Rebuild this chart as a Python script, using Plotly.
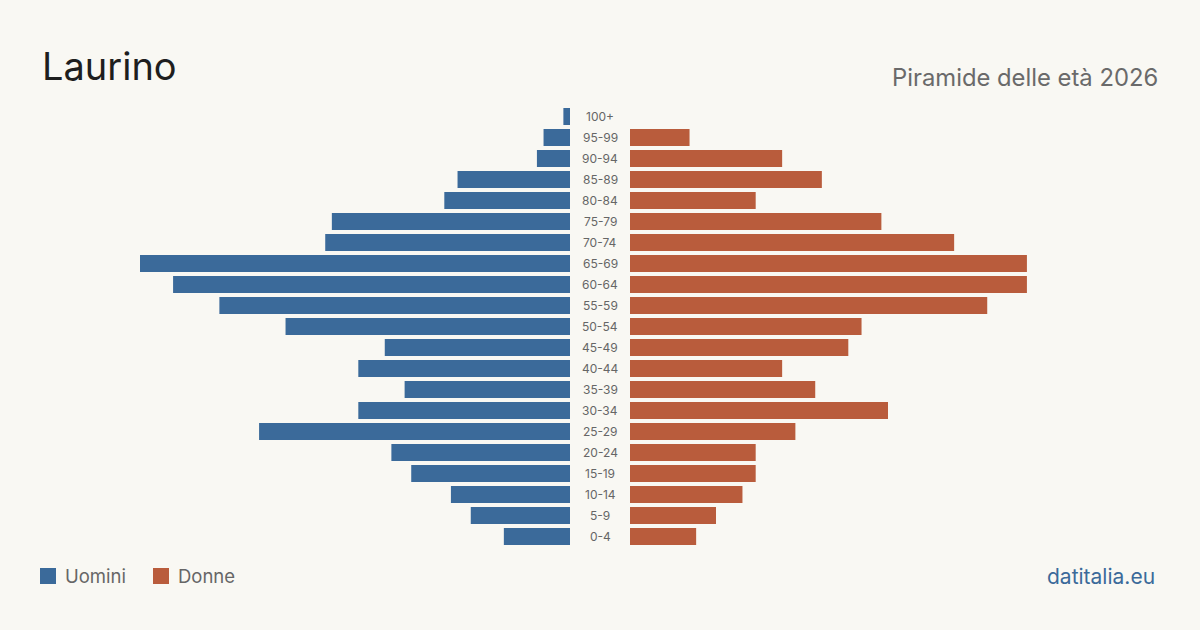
import plotly.graph_objects as go

age_groups = ["100+", "95-99", "90-94", "85-89", "80-84", "75-79", "70-74", "65-69",
              "60-64", "55-59", "50-54", "45-49", "40-44", "35-39", "30-34", "25-29",
              "20-24", "15-19", "10-14", "5-9", "0-4"]
uomini = [1, 4, 5, 17, 19, 36, 37, 65, 60, 53, 43, 28, 32, 25, 32, 47, 27, 24, 18, 15, 10]
donne = [0, 9, 23, 29, 19, 38, 49, 60, 60, 54, 35, 33, 23, 28, 39, 25, 19, 19, 17, 13, 10]

BLUE = "#3b6a9a"
ORANGE = "#b95c3c"
BG = "#f9f8f3"
W, H = 1200, 630
XMAX = 65

fig = go.Figure()
fig.add_trace(go.Bar(y=age_groups, x=uomini, orientation="h", marker_color=BLUE,
                     marker_line_width=0,
                     xaxis="x", yaxis="y", name="Uomini", showlegend=False))
fig.add_trace(go.Bar(y=age_groups, x=donne, orientation="h", marker_color=ORANGE,
                     marker_line_width=0,
                     xaxis="x2", yaxis="y", name="Donne", showlegend=False))

y_top = 116.5 - 10.5
y_bot = 536.5 + 10.5

fig.update_layout(
    width=W, height=H,
    margin=dict(l=0, r=0, t=0, b=0),
    paper_bgcolor=BG, plot_bgcolor=BG,
    bargap=1 - 17 / 21,
    font=dict(family="Inter", color="#666"),
    xaxis=dict(domain=[140 / W, 570 / W], range=[XMAX, 0], visible=False, fixedrange=True),
    xaxis2=dict(domain=[630 / W, 1060 / W], range=[0, XMAX], visible=False, fixedrange=True),
    yaxis=dict(domain=[(H - y_bot) / H, (H - y_top) / H], type="category",
               categoryorder="array", categoryarray=age_groups[::-1],
               range=[-0.5, len(age_groups) - 0.5], visible=False, fixedrange=True),
)

for g in age_groups:
    fig.add_annotation(x=0.5, xref="paper", y=g, yref="y", text=g, showarrow=False,
                       font=dict(size=12, color="#666", family="Inter"), xanchor="center", yanchor="middle")

fig.add_annotation(x=40 / W, y=1 - 66 / H, xref="paper", yref="paper", text="Laurino",
                   showarrow=False, xanchor="left", yanchor="middle",
                   font=dict(size=38, color="#1e1e1e", family="Inter"))
fig.add_annotation(x=1160 / W, y=1 - 77 / H, xref="paper", yref="paper", text="Piramide delle età 2026",
                   showarrow=False, xanchor="right", yanchor="middle",
                   font=dict(size=23.8, color="#6a6a6a", family="Inter"))
fig.add_annotation(x=1157 / W, y=1 - 576 / H, xref="paper", yref="paper", text="datitalia.eu",
                   showarrow=False, xanchor="right", yanchor="middle",
                   font=dict(size=21, color=BLUE, family="Inter"))

# legend
for x0, col, label in [(40, BLUE, "Uomini"), (153, ORANGE, "Donne")]:
    fig.add_shape(type="rect", xref="paper", yref="paper",
                  x0=x0 / W, x1=(x0 + 16) / W, y0=1 - 584 / H, y1=1 - 568 / H,
                  fillcolor=col, line_width=0)
    fig.add_annotation(x=(x0 + 23) / W, y=1 - 576 / H, xref="paper", yref="paper", text=label,
                       showarrow=False, xanchor="left", yanchor="middle",
                       font=dict(size=18.5, color="#666", family="Inter"))

fig.write_html("out.html")
